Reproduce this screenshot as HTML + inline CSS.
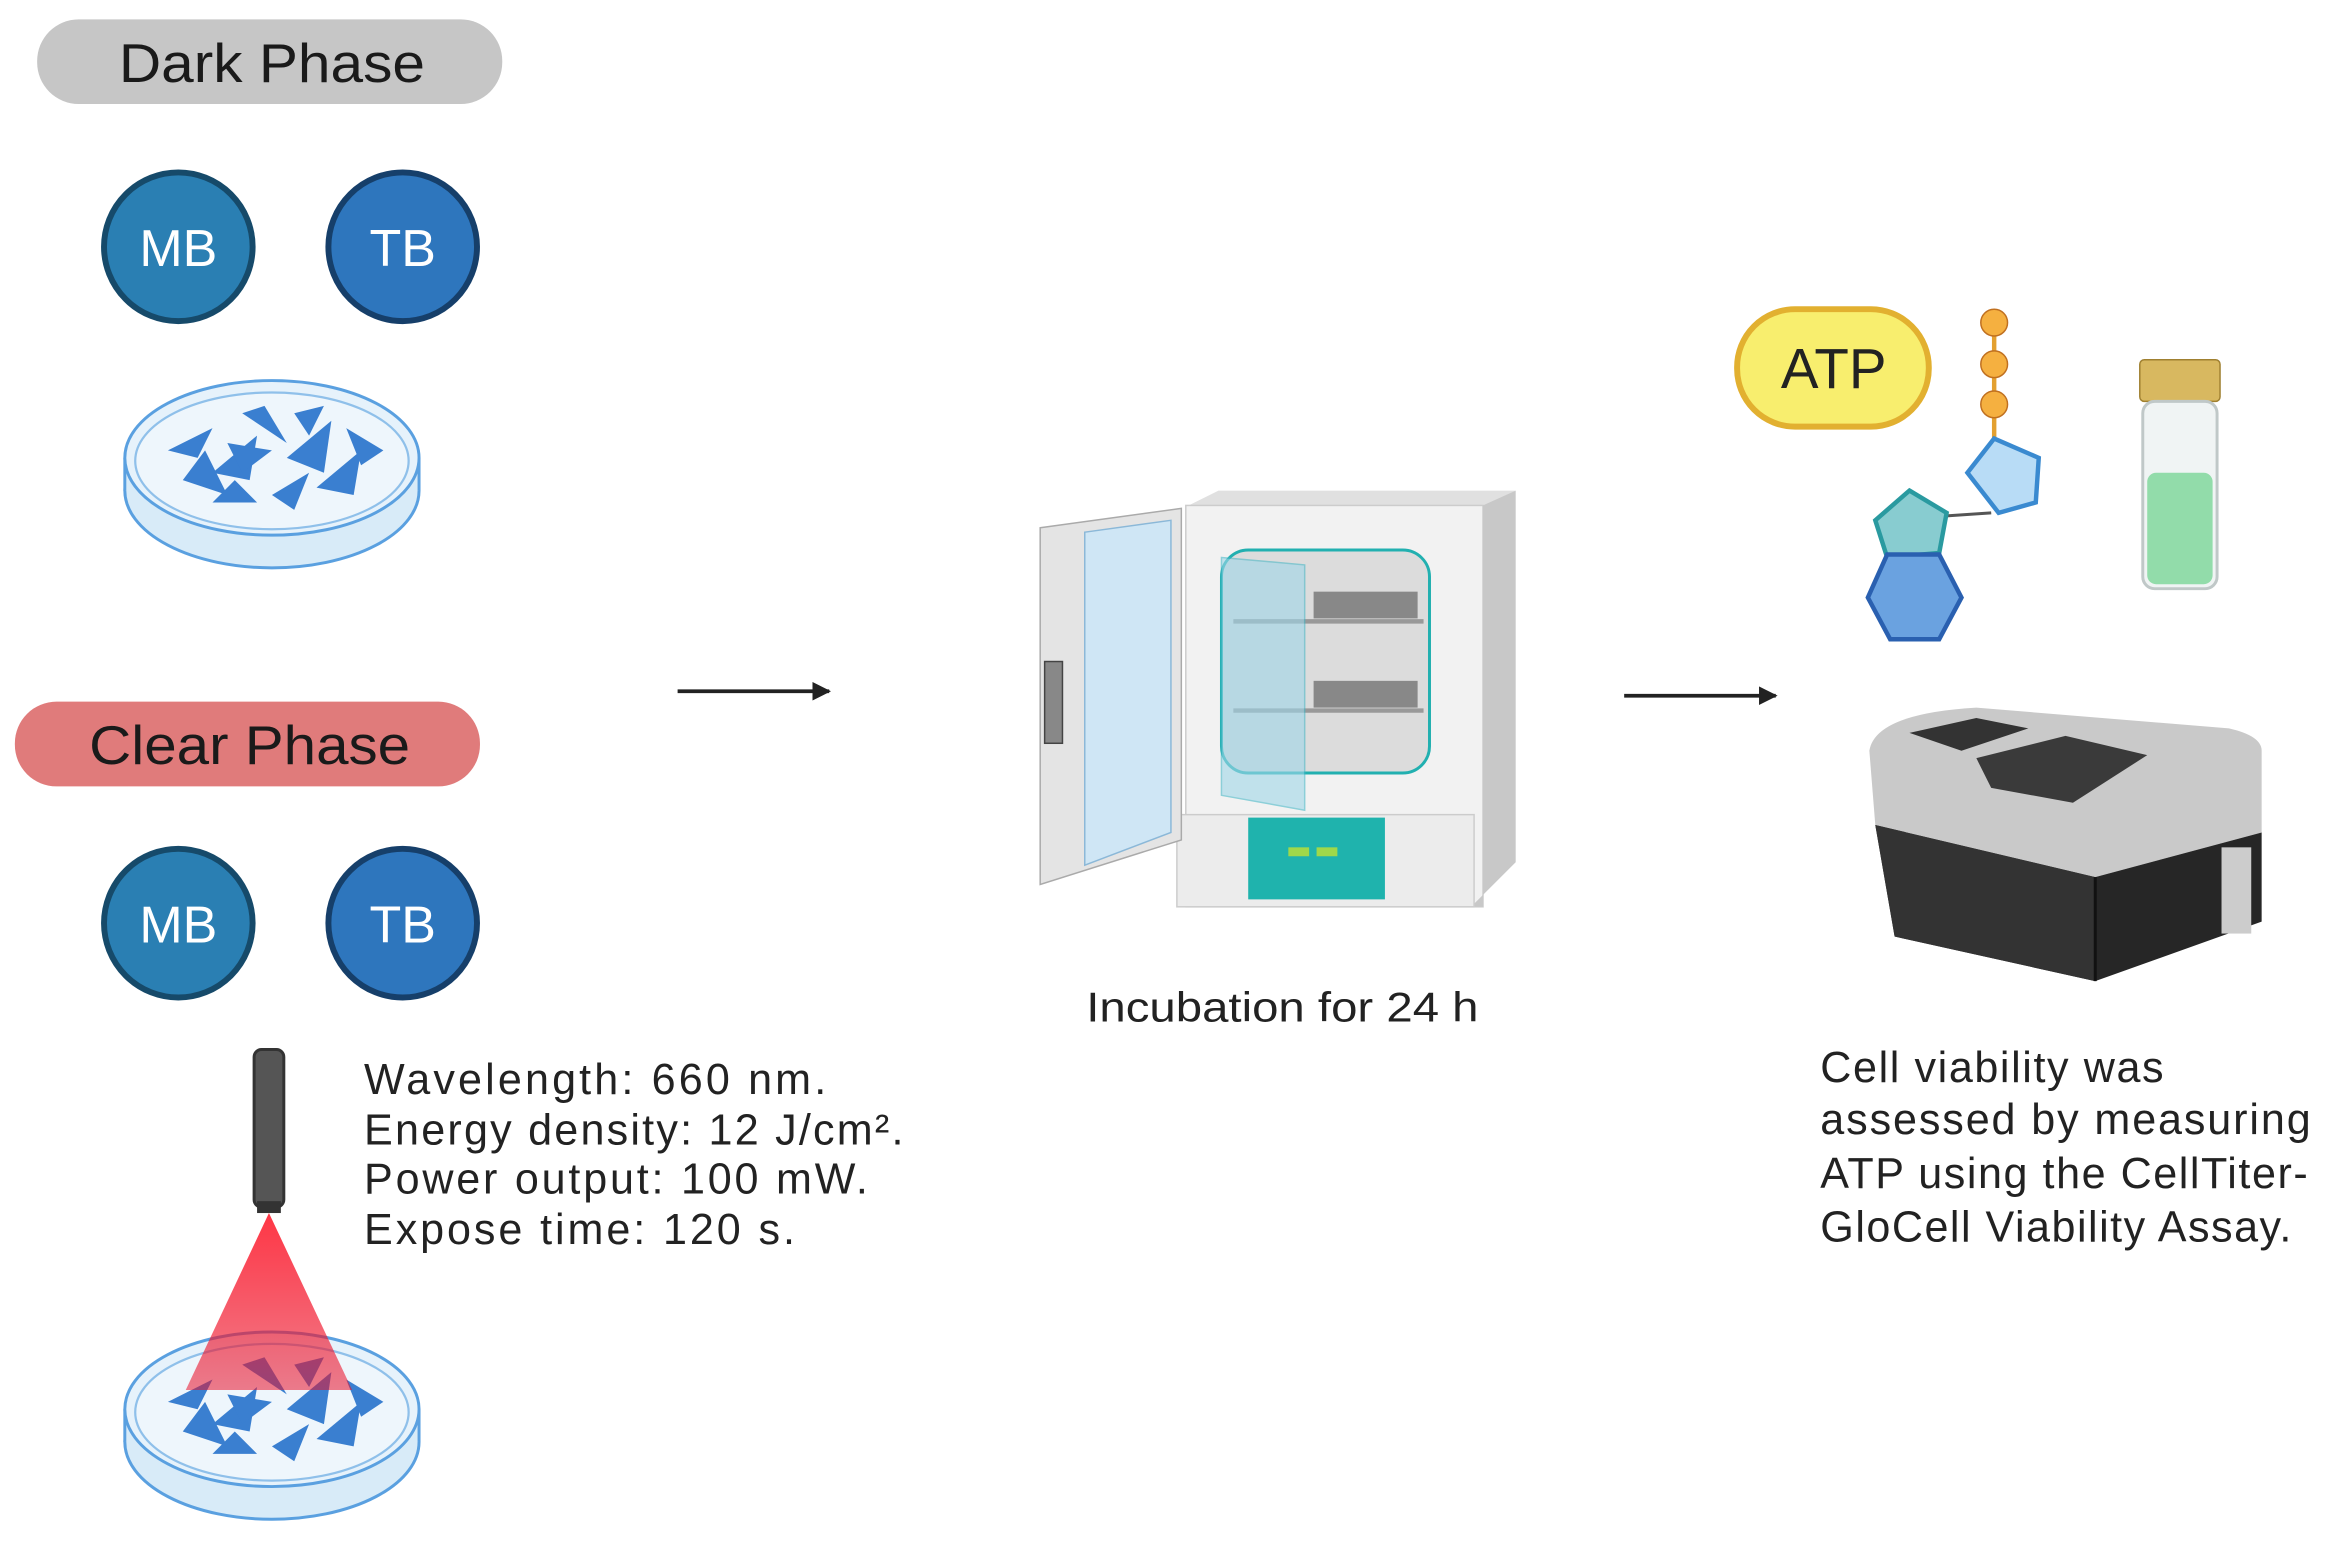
<!DOCTYPE html>
<html><head><meta charset="utf-8"><style>
html,body{margin:0;padding:0;background:#fff;}
svg{display:block;}
text{font-family:"Liberation Sans",sans-serif;}
</style></head><body>
<svg width="2330" height="1549" viewBox="0 0 1568 1042" preserveAspectRatio="none" xmlns="http://www.w3.org/2000/svg">
<defs>
<linearGradient id="beam" x1="0" y1="0" x2="0" y2="1"><stop offset="0" stop-color="#ff2030"/><stop offset="1" stop-color="#e8102a" stop-opacity="0.6"/></linearGradient>
<g id="dish">
 <ellipse cx="0" cy="22" rx="99" ry="52" fill="#d8ebf8" stroke="#5aa0e0" stroke-width="2"/>
 <rect x="-99" y="0" width="198" height="22" fill="#d8ebf8"/>
 <line x1="-99" y1="0" x2="-99" y2="22" stroke="#5aa0e0" stroke-width="2"/>
 <line x1="99" y1="0" x2="99" y2="22" stroke="#5aa0e0" stroke-width="2"/>
 <ellipse cx="0" cy="0" rx="99" ry="52" fill="#e6f2fb" stroke="#5aa0e0" stroke-width="2"/>
 <ellipse cx="0" cy="2" rx="92" ry="46" fill="#eef6fc" stroke="#8fc0ea" stroke-width="1.5"/>
 <g fill="#3a7fd0">
  <path d="M-70 -5 L-40 -20 L-50 0Z"/><path d="M-40 10 L-10 -15 L-15 15Z"/><path d="M-20 -30 L10 -10 L-5 -35Z"/>
  <path d="M10 0 L40 -25 L35 10Z"/><path d="M30 20 L60 -5 L55 25Z"/><path d="M-60 15 L-30 25 L-45 -5Z"/>
  <path d="M0 25 L25 10 L15 35Z"/><path d="M50 -20 L75 -5 L60 5Z"/><path d="M-30 -10 L0 -5 L-20 10Z"/>
  <path d="M-10 30 L-40 30 L-25 15Z"/><path d="M15 -30 L35 -35 L25 -15Z"/>
 </g>
</g>
<marker id="ah" viewBox="0 0 10 10" refX="9" refY="5" markerWidth="5" markerHeight="5" orient="auto"><path d="M0 0L10 5L0 10Z" fill="#222"/></marker>
</defs>

<!-- Dark phase -->
<rect x="25" y="13" width="313" height="57" rx="28" fill="#c6c6c6"/>
<text x="80" y="55" font-size="37" textLength="206" lengthAdjust="spacingAndGlyphs" fill="#1a1a1a">Dark Phase</text>
<circle cx="120" cy="166" r="50" fill="#2a7fb3" stroke="#164a6a" stroke-width="4"/>
<text x="120" y="179" font-size="35" text-anchor="middle" fill="#fff">MB</text>
<circle cx="271" cy="166" r="50" fill="#2e76bd" stroke="#163f6a" stroke-width="4"/>
<text x="271" y="179" font-size="35" text-anchor="middle" fill="#fff">TB</text>
<use href="#dish" x="183" y="308"/>

<!-- Clear phase -->
<rect x="10" y="472" width="313" height="57" rx="28" fill="#e07b7b"/>
<text x="60" y="514" font-size="37" textLength="216" lengthAdjust="spacingAndGlyphs" fill="#1a1a1a">Clear Phase</text>
<circle cx="120" cy="621" r="50" fill="#2a7fb3" stroke="#164a6a" stroke-width="4"/>
<text x="120" y="634" font-size="35" text-anchor="middle" fill="#fff">MB</text>
<circle cx="271" cy="621" r="50" fill="#2e76bd" stroke="#163f6a" stroke-width="4"/>
<text x="271" y="634" font-size="35" text-anchor="middle" fill="#fff">TB</text>
<rect x="171" y="706" width="20" height="106" rx="5" fill="#555" stroke="#333" stroke-width="2"/>
<rect x="173" y="808" width="16" height="8" fill="#333"/>
<use href="#dish" x="183" y="948"/>
<path d="M181 816 L125 935 L237 935Z" fill="url(#beam)" opacity="0.9"/>
<g font-size="29" fill="#222" lengthAdjust="spacingAndGlyphs">
<text x="245" y="736" textLength="311">Wavelength: 660 nm.</text>
<text x="245" y="770" textLength="363">Energy density: 12 J/cm².</text>
<text x="245" y="803" textLength="339">Power output: 100 mW.</text>
<text x="245" y="837" textLength="290">Expose time: 120 s.</text>
</g>

<!-- arrows -->
<line x1="456" y1="465" x2="558" y2="465" stroke="#222" stroke-width="2.5" marker-end="url(#ah)"/>
<line x1="1093" y1="468" x2="1195" y2="468" stroke="#222" stroke-width="2.5" marker-end="url(#ah)"/>

<!-- incubator -->
<path d="M800 340 L820 330 L1020 330 L1000 340Z" fill="#e0e0e0"/>
<rect x="798" y="340" width="200" height="270" fill="#f2f2f2" stroke="#ccc"/>
<path d="M998 340 L1020 330 L1020 580 L990 610 L998 610Z" fill="#c8c8c8"/>
<rect x="792" y="548" width="200" height="62" fill="#ececec" stroke="#ccc"/>
<rect x="840" y="550" width="92" height="55" fill="#1fb3ad"/>
<rect x="867" y="570" width="14" height="6" fill="#9fd84a"/><rect x="886" y="570" width="14" height="6" fill="#9fd84a"/>
<rect x="822" y="370" width="140" height="150" rx="18" fill="#dcdcdc" stroke="#22b0b0" stroke-width="2"/>
<rect x="884" y="398" width="70" height="18" fill="#888"/>
<rect x="884" y="458" width="70" height="18" fill="#888"/>
<line x1="830" y1="418" x2="958" y2="418" stroke="#999" stroke-width="3"/>
<line x1="830" y1="478" x2="958" y2="478" stroke="#999" stroke-width="3"/>
<path d="M822 375 L878 380 L878 545 L822 535Z" fill="#9fd6e8" opacity="0.6" stroke="#4ab8c8"/>
<path d="M700 355 L795 342 L795 565 L700 595Z" fill="#e4e4e4" stroke="#aaa"/>
<path d="M730 358 L788 350 L788 560 L730 582Z" fill="#cfe6f5" stroke="#8bb8d8"/>
<rect x="703" y="445" width="12" height="55" fill="#888" stroke="#444"/>

<text x="731" y="687" font-size="28" textLength="264" lengthAdjust="spacingAndGlyphs" fill="#222">Incubation for 24 h</text>

<!-- ATP -->
<rect x="1169" y="208" width="129" height="79" rx="39" fill="#f8ee6e" stroke="#e2b030" stroke-width="4"/>
<text x="1234" y="261" font-size="38" text-anchor="middle" fill="#222">ATP</text>
<line x1="1342" y1="217" x2="1342" y2="300" stroke="#e3a030" stroke-width="3"/>
<circle cx="1342" cy="217" r="9" fill="#f5b040" stroke="#c07020"/>
<circle cx="1342" cy="245" r="9" fill="#f5b040" stroke="#c07020"/>
<circle cx="1342" cy="272" r="9" fill="#f5b040" stroke="#c07020"/>
<path d="M1342 295 L1372 308 L1370 338 L1345 345 L1324 318Z" fill="#b8dcf6" stroke="#3a8ad0" stroke-width="3"/>
<line x1="1310" y1="347" x2="1340" y2="345" stroke="#555" stroke-width="2"/>
<path d="M1285 330 L1310 345 L1305 372 L1270 375 L1262 350Z" fill="#88ccd0" stroke="#2a9aa0" stroke-width="3"/>
<path d="M1270 373 L1305 373 L1320 402 L1305 430 L1272 430 L1257 402Z" fill="#6aa2e0" stroke="#2a60b0" stroke-width="3"/>
<!-- vial -->
<rect x="1440" y="242" width="54" height="28" rx="3" fill="#d8b860" stroke="#a08030"/>
<rect x="1442" y="270" width="50" height="126" rx="8" fill="#f0f4f4" stroke="#c0c8c8" stroke-width="2"/>
<rect x="1445" y="318" width="44" height="75" rx="6" fill="#92dcaa"/>

<!-- reader -->
<path d="M1258 505 Q1262 480 1330 476 L1500 490 Q1522 495 1522 505 L1522 560 L1410 590 L1262 555Z" fill="#c9c9c9"/>
<path d="M1262 555 L1410 590 L1522 560 L1522 620 L1410 660 L1275 630Z" fill="#262626"/>
<path d="M1262 555 L1410 590 L1410 660 L1275 630Z" fill="#333"/>
<path d="M1410 590 L1410 660" stroke="#111" stroke-width="2"/>
<path d="M1285 493 L1330 483 L1365 490 L1320 505Z" fill="#333"/>
<path d="M1330 510 L1390 495 L1445 508 L1395 540 L1340 530Z" fill="#3a3a3a"/>
<rect x="1495" y="570" width="20" height="58" fill="#ccc"/>

<g font-size="29" fill="#222" lengthAdjust="spacingAndGlyphs">
<text x="1225" y="728" textLength="231">Cell viability was</text>
<text x="1225" y="763" textLength="330">assessed by measuring</text>
<text x="1225" y="799" textLength="328">ATP using the CellTiter-</text>
<text x="1225" y="835" textLength="317">GloCell Viability Assay.</text>
</g>
</svg>
</body></html>
